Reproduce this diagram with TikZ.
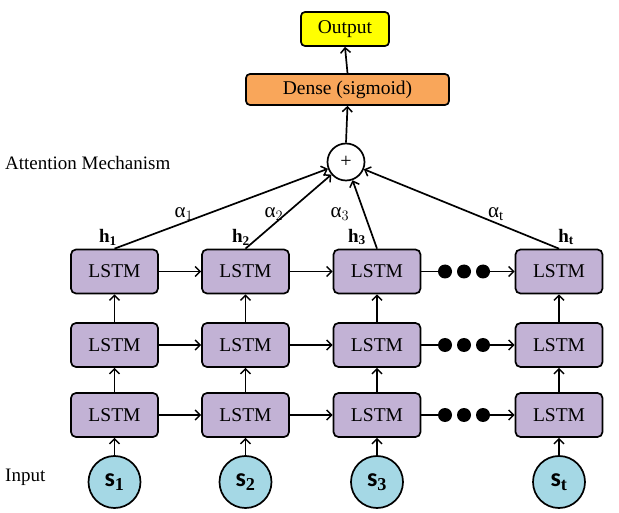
\documentclass[tikz,border=0pt]{standalone}
\usepackage{fontspec}
\setmainfont{Liberation Serif}
\newfontfamily\sansb{Carlito}
\usetikzlibrary{arrows.meta}
\definecolor{lstmc}{HTML}{C2B2D5}
\definecolor{inc}{HTML}{A5D8E5}
\definecolor{densec}{HTML}{F9A65A}
\definecolor{outc}{HTML}{FFFF00}
\tikzset{
  lstm/.style={draw, line width=1.7pt, rounded corners=5pt, fill=lstmc, minimum width=87pt, minimum height=44pt, font=\fontsize{19.5}{21}\selectfont},
  inp/.style={draw, line width=1.7pt, circle, fill=inc, minimum size=52pt, inner sep=0pt, font=\sansb\bfseries\fontsize{26}{28}\selectfont},
  arr/.style={line width=1.7pt, -{Straight Barb[length=5pt,width=10pt,line width=1.5pt]}},
  ln/.style={line width=1.7pt},
  dotc/.style={circle, fill=black, minimum size=14pt, inner sep=0pt},
  lbl/.style={font=\fontsize{19}{21}\selectfont},
  hl/.style={font=\bfseries\fontsize{19}{21}\selectfont},
  al/.style={font=\fontsize{21}{23}\selectfont}
}
\begin{document}
\begin{tikzpicture}[x=1pt,y=-1pt]
\useasboundingbox (0,0) rectangle (619,513);
% output and dense
\node[draw, line width=1.7pt, rounded corners=4pt, fill=outc, minimum width=88pt, minimum height=34pt, font=\fontsize{19.5}{21}\selectfont] (out) at (345,29) {Output};
\node[draw, line width=1.7pt, rounded corners=4pt, fill=densec, minimum width=203pt, minimum height=31pt, font=\fontsize{19.5}{21}\selectfont] (dense) at (347.5,89.5) {Dense (sigmoid)};
\node[draw, line width=1.7pt, circle, fill=white, minimum size=37pt, inner sep=0pt, font=\fontsize{20}{22}\selectfont] (plus) at (346,162) {+};
\draw[arr] (dense.north) -- (out.south);
\draw[arr] (plus.north) -- (dense.south);
% labels
\node[lbl, anchor=west, inner sep=0pt] (att) at (5,163) {Attention Mechanism};
\node[lbl, anchor=west, inner sep=0pt] (inl) at (5,477) {Input};
% LSTM grid
\foreach \c/\x in {1/114.5, 2/245.5, 3/377, 4/559} {
  \node[lstm] (a\c) at (\x,271.5) {LSTM};
  \node[lstm] (b\c) at (\x,345) {LSTM};
  \node[lstm] (c\c) at (\x,415) {LSTM};
  \draw[arr] (c\c.north) -- (b\c.south);
  \draw[arr] (b\c.north) -- (a\c.south);
}
\node[inp] (s1) at (114.5,482) {s$_{\mathbf{1}}$};
\node[inp] (s2) at (245.5,482) {s$_{\mathbf{2}}$};
\node[inp] (s3) at (377,482) {s$_{\mathbf{3}}$};
\node[inp] (s4) at (559,482) {s$_{\mathbf{t}}$};
\foreach \c in {1,2,3,4} { \draw[arr] (s\c.north) -- (c\c.south); }
% horizontal connections
\foreach \r in {a,b,c} {
  \draw[arr] (\r1.east) -- (\r2.west);
  \draw[arr] (\r2.east) -- (\r3.west);
  \node[dotc] (\r d1) at (445,0 |- \r3.east) {};
  \node[dotc] (\r d2) at (464,0 |- \r3.east) {};
  \node[dotc] (\r d3) at (483,0 |- \r3.east) {};
  \draw[ln] (\r3.east) -- (\r d1.center);
  \draw[arr] (\r d3.center) -- (\r4.west);
}
% attention
\foreach \c in {1,2,3,4} { \draw[arr] (a\c.north) -- (plus); }
\node[hl] (h1) at (108,237) {h$_{\mathbf{1}}$};
\node[hl] (h2) at (241,237) {h$_{\mathbf{2}}$};
\node[hl] (h3) at (357,237) {h$_{\mathbf{3}}$};
\node[hl] (h4) at (566,237) {h$_{\mathbf{t}}$};
\node[al] (al1) at (184,214) {α$_1$};
\node[al] (al2) at (274,214) {α$_2$};
\node[al] (al3) at (340,214) {α$_3$};
\node[al] (al4) at (496,214) {α$_\mathrm{t}$};
\end{tikzpicture}
\end{document}
